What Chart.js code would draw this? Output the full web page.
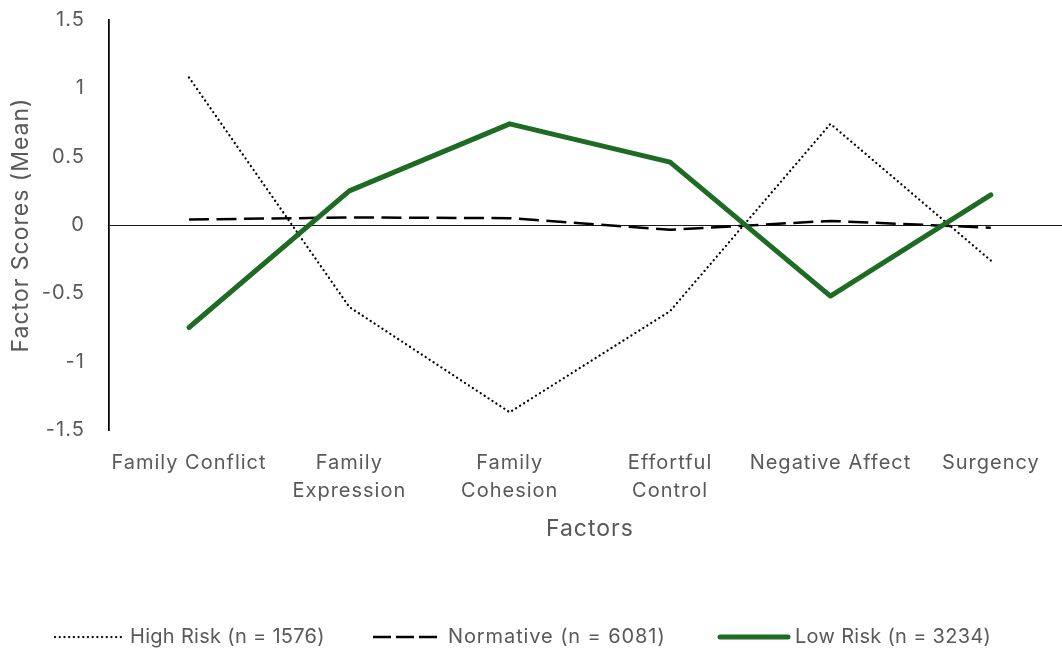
<!DOCTYPE html>
<html>
<head>
<meta charset="utf-8">
<script src="https://cdn.jsdelivr.net/npm/chart.js@4"></script>
<style>
  html, body { margin: 0; padding: 0; background: #fff; overflow: hidden; }
  #wrap { width: 1062px; height: 655px; overflow: hidden; position: relative; }
  canvas { display: block; }
</style>
</head>
<body>
<div id="wrap"><canvas id="chart" width="1072" height="655"></canvas></div>
<script>
// Factor categories (multi-line labels are split into arrays)
const categories = [
  'Family Conflict',
  ['Family', 'Expression'],
  ['Family', 'Cohesion'],
  ['Effortful', 'Control'],
  'Negative Affect',
  'Surgency'
];

// Mean factor scores per class
const highRisk  = [1.08, -0.60, -1.37, -0.63, 0.74, -0.26];
const normative = [0.04, 0.055, 0.05, -0.035, 0.03, -0.02];
const lowRisk   = [-0.75, 0.25, 0.74, 0.46, -0.52, 0.22];

const seriesNames = [
  'High Risk (n = 1576)',
  'Normative (n = 6081)',
  'Low Risk (n = 3234)'
];

const yTicks = [-1.5, -1, -0.5, 0, 0.5, 1, 1.5];

const FONT = 'Inter, "Noto Sans", sans-serif';
const TEXT = '#595959';
const SPACING = '1px';

// Slightly open tracking for axis text on the canvas
const tracking = {
  id: 'tracking',
  beforeLayout(chart) { chart.ctx.letterSpacing = SPACING; },
  beforeDraw(chart) { chart.ctx.letterSpacing = SPACING; }
};

// Legend drawn below the axis title: line sample followed by label
const bottomLegend = {
  id: 'bottomLegend',
  afterDraw(chart) {
    const ctx = chart.ctx;
    const y = 637;
    const sample = 68;
    const starts = [55, 373, 720];
    ctx.save();
    ctx.font = '20px ' + FONT;
    ctx.textBaseline = 'middle';
    ctx.textAlign = 'left';
    chart.data.datasets.forEach((ds, i) => {
      const x = starts[i];
      ctx.save();
      ctx.strokeStyle = ds.borderColor;
      ctx.lineWidth = ds.borderWidth;
      ctx.lineCap = ds.legendCap || 'butt';
      ctx.setLineDash(ds.legendDash || []);
      ctx.beginPath();
      ctx.moveTo(x, y);
      ctx.lineTo(x + sample, y);
      ctx.stroke();
      ctx.restore();
      ctx.letterSpacing = i === 1 ? '0.9px' : '0.3px';
      ctx.fillStyle = TEXT;
      ctx.fillText(ds.label, x + sample + 7, y);
    });
    ctx.restore();
  }
};

new Chart(document.getElementById('chart'), {
  type: 'line',
  data: {
    labels: categories,
    datasets: [
      {
        label: seriesNames[0],
        data: highRisk,
        borderColor: '#000000',
        borderWidth: 2.25,
        borderDash: [0.1, 4.6],
        borderCapStyle: 'round',
        legendDash: [0.1, 4.6],
        legendCap: 'round',
        pointRadius: 0,
        order: 3
      },
      {
        label: seriesNames[1],
        data: normative,
        borderColor: '#000000',
        borderWidth: 2.5,
        borderDash: [20, 7.5],
        legendDash: [18, 5],
        pointRadius: 0,
        order: 2
      },
      {
        label: seriesNames[2],
        data: lowRisk,
        borderColor: '#1E6B24',
        borderWidth: 5,
        borderCapStyle: 'round',
        borderJoinStyle: 'round',
        legendCap: 'round',
        pointRadius: 0,
        order: 1
      }
    ]
  },
  options: {
    responsive: false,
    animation: false,
    devicePixelRatio: 1,
    layout: { padding: { top: 20, left: 0, right: 1, bottom: 100 } },
    plugins: {
      legend: { display: false },
      tooltip: { enabled: false }
    },
    scales: {
      x: {
        type: 'category',
        offset: true,
        grid: { display: false },
        border: { display: false },
        ticks: {
          autoSkip: false,
          maxRotation: 0,
          minRotation: 0,
          padding: 11,
          color: TEXT,
          font: { family: FONT, size: 20, lineHeight: 1.4 }
        },
        title: {
          display: true,
          text: 'Factors',
          color: TEXT,
          font: { family: FONT, size: 23, lineHeight: 1.2 },
          padding: { top: 0, bottom: 12 }
        },
        afterFit(scale) { scale.height = 125; }
      },
      y: {
        min: -1.5,
        max: 1.5,
        afterBuildTicks(scale) {
          scale.ticks = yTicks.map(v => ({ value: v }));
        },
        ticks: {
          padding: 24,
          color: TEXT,
          font: { family: FONT, size: 20 },
          callback: v => String(v)
        },
        grid: {
          drawTicks: false,
          lineWidth: 1,
          color: c => (c.tick && c.tick.value === 0 ? '#1a1a1a' : 'rgba(0,0,0,0)')
        },
        border: { display: true, color: '#000000', width: 1.75 },
        title: {
          display: true,
          text: 'Factor Scores (Mean)',
          color: TEXT,
          font: { family: FONT, size: 23, lineHeight: 1.2 },
          padding: { top: 7, bottom: 0 }
        },
        afterFit(scale) {
          scale.width = 108.8;
          scale.paddingTop = 0;
          scale.paddingBottom = 0;
        }
      }
    }
  },
  plugins: [tracking, bottomLegend]
});
</script>
</body>
</html>
